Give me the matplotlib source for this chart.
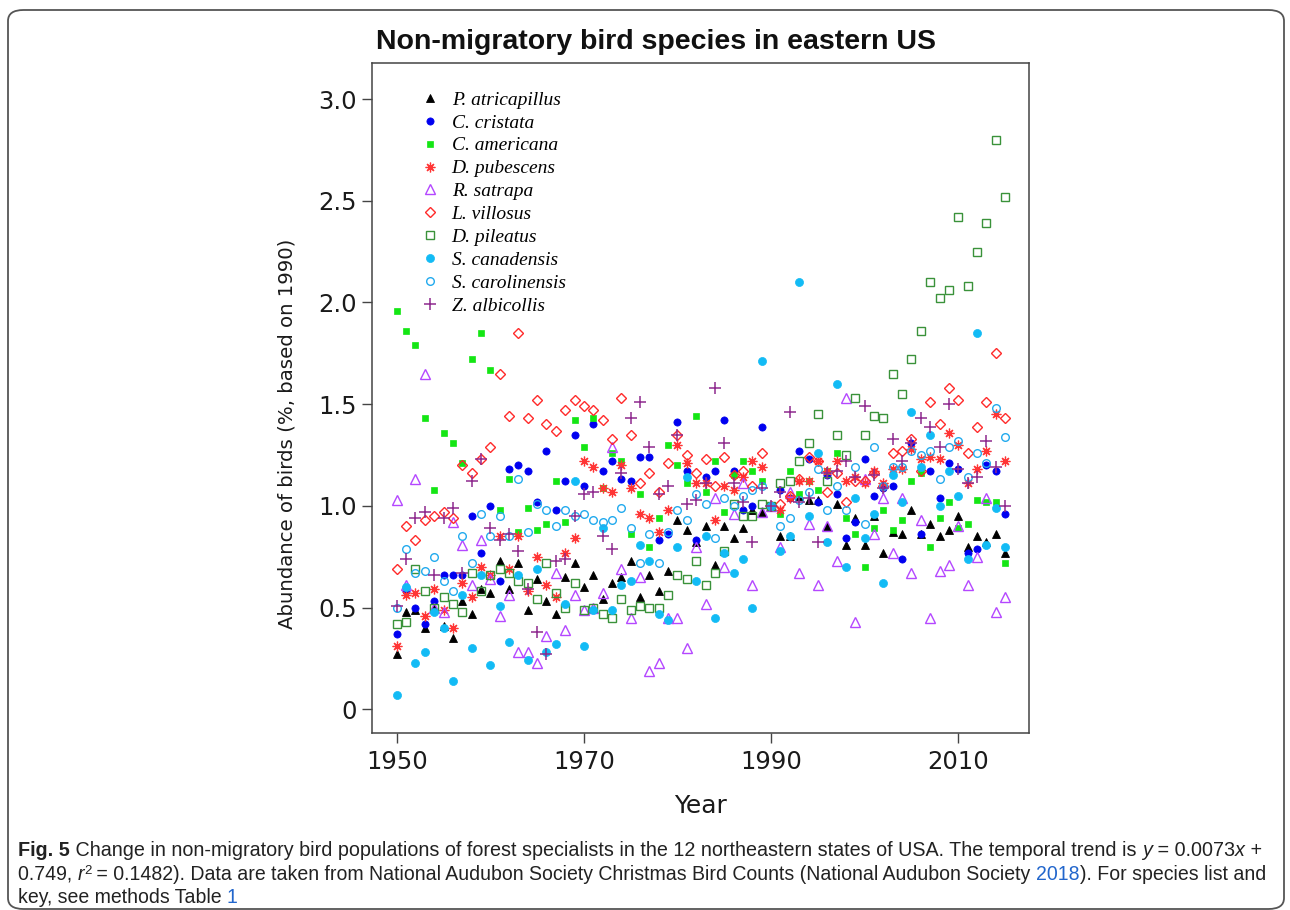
import numpy as np
import matplotlib
matplotlib.use("Agg")
import matplotlib.pyplot as plt
from matplotlib.patches import FancyBboxPatch

# ---------------- data ----------------
years = np.arange(1950, 2016)

P_atricapillus = [0.27, 0.48, 0.49, 0.40, 0.50, 0.41, 0.35, 0.53, 0.47, 0.59,
                  0.57, 0.73, 0.59, 0.72, 0.49, 0.64, 0.53, 0.47, 0.65, 0.72,
                  0.60, 0.66, 0.54, 0.62, 0.65, 0.73, 0.55, 0.66, 0.58, 0.68,
                  0.93, 0.88, 0.82, 0.90, 0.71, 0.90, 0.84, 0.89, 0.98, 0.97,
                  1.00, 0.85, 0.85, 1.05, 1.03, 1.03, 0.90, 1.01, 0.81, 0.94,
                  0.81, 0.95, 0.77, 0.87, 0.86, 0.98, 0.86, 0.91, 0.85, 0.88,
                  0.95, 0.80, 0.85, 0.82, 0.86, 0.77]
C_cristata = [0.37, 0.58, 0.50, 0.42, 0.53, 0.66, 0.66, 0.66, 0.95, 0.77,
              1.00, 0.63, 1.18, 1.20, 1.17, 1.02, 1.27, 0.98, 1.12, 1.35,
              1.10, 1.40, 1.17, 1.22, 1.13, 1.12, 1.24, 1.24, 0.83, 0.86,
              1.41, 1.17, 0.83, 1.14, 1.17, 1.42, 1.17, 0.98, 1.00, 1.39,
              1.00, 1.08, 1.04, 1.27, 1.23, 1.02, 1.15, 1.06, 0.84, 0.92,
              1.23, 1.05, 1.09, 1.10, 0.74, 1.31, 0.86, 1.17, 1.04, 1.21,
              1.18, 0.77, 0.79, 1.20, 1.17, 0.96]
C_americana = [1.96, 1.86, 1.79, 1.43, 1.08, 1.36, 1.31, 1.21, 1.72, 1.85,
               1.67, 0.98, 1.13, 0.87, 0.99, 0.88, 0.91, 1.12, 0.92, 1.42,
               1.29, 1.43, 1.09, 1.26, 1.22, 0.86, 1.06, 0.80, 0.94, 1.30,
               1.20, 1.11, 1.44, 1.07, 1.22, 0.97, 1.15, 1.22, 1.17, 1.12,
               1.00, 0.96, 1.17, 1.06, 1.12, 1.08, 1.17, 1.26, 0.94, 0.86,
               0.70, 0.89, 0.98, 0.88, 0.93, 1.12, 1.16, 0.80, 0.94, 1.02,
               0.89, 0.91, 1.03, 1.02, 1.02, 0.72]
D_pubescens = [0.31, 0.56, 0.57, 0.46, 0.59, 0.49, 0.40, 0.62, 0.55, 0.70,
               0.66, 0.85, 0.69, 0.85, 0.58, 0.75, 0.61, 0.55, 0.77, 0.84,
               1.22, 1.19, 1.09, 1.07, 1.20, 1.09, 0.96, 0.94, 0.87, 0.98,
               1.30, 1.21, 1.11, 1.11, 0.93, 1.10, 1.08, 1.14, 1.22, 1.19,
               1.00, 0.98, 1.04, 1.12, 1.12, 1.22, 1.17, 1.22, 1.12, 1.14,
               1.11, 1.17, 1.11, 1.18, 1.18, 1.28, 1.23, 1.24, 1.23, 1.36,
               1.30, 1.11, 1.18, 1.27, 1.45, 1.22]
R_satrapa = [1.03, 0.61, 1.13, 1.65, 0.50, 0.48, 0.92, 0.81, 0.61, 0.83,
             0.64, 0.46, 0.56, 0.28, 0.28, 0.23, 0.36, 0.67, 0.39, 0.56,
             0.49, 0.50, 0.57, 1.29, 0.69, 0.45, 0.65, 0.19, 0.23, 0.45,
             0.45, 0.30, 0.80, 0.52, 1.04, 0.70, 0.96, 1.11, 0.61, 0.97,
             1.00, 0.80, 1.07, 0.67, 0.91, 0.61, 0.90, 0.73, 1.53, 0.43,
             1.13, 0.86, 1.04, 0.77, 1.04, 0.67, 0.93, 0.45, 0.68, 0.71,
             0.90, 0.61, 0.75, 1.04, 0.48, 0.55]
L_villosus = [0.69, 0.90, 0.83, 0.93, 0.95, 0.97, 0.94, 1.20, 1.16, 1.23,
              1.29, 1.65, 1.44, 1.85, 1.43, 1.52, 1.40, 1.37, 1.47, 1.52,
              1.49, 1.47, 1.42, 1.33, 1.53, 1.35, 1.11, 1.16, 1.07, 1.21,
              1.35, 1.25, 1.16, 1.23, 1.10, 1.24, 1.15, 1.17, 1.10, 1.26,
              1.00, 1.01, 1.05, 1.13, 1.24, 1.22, 1.07, 1.16, 1.02, 1.12,
              1.12, 1.16, 1.10, 1.26, 1.27, 1.33, 1.17, 1.51, 1.40, 1.58,
              1.52, 1.26, 1.39, 1.51, 1.75, 1.43]
D_pileatus = [0.42, 0.43, 0.69, 0.58, 0.50, 0.55, 0.52, 0.48, 0.67, 0.58,
              0.66, 0.69, 0.67, 0.63, 0.62, 0.54, 0.72, 0.57, 0.50, 0.62,
              0.49, 0.50, 0.47, 0.45, 0.54, 0.49, 0.51, 0.50, 0.50, 0.56,
              0.66, 0.64, 0.73, 0.61, 0.67, 0.78, 1.01, 0.95, 0.95, 1.01,
              1.00, 1.11, 1.12, 1.22, 1.31, 1.45, 1.12, 1.35, 1.25, 1.53,
              1.35, 1.44, 1.43, 1.65, 1.55, 1.72, 1.86, 2.10, 2.02, 2.06,
              2.42, 2.08, 2.25, 2.39, 2.80, 2.52]
S_canadensis = [0.07, 0.60, 0.23, 0.28, 0.48, 0.40, 0.14, 0.56, 0.30, 0.66,
                0.22, 0.51, 0.33, 0.66, 0.24, 0.69, 0.28, 0.32, 0.52, 1.12,
                0.31, 0.49, 0.89, 0.49, 0.61, 0.63, 0.81, 0.73, 0.47, 0.44,
                0.80, 1.14, 0.63, 0.85, 0.45, 0.77, 0.67, 0.74, 0.50, 1.71,
                1.00, 0.78, 0.85, 2.10, 0.95, 1.26, 0.82, 1.60, 0.70, 1.04,
                0.84, 0.96, 0.62, 1.15, 1.02, 1.46, 1.19, 1.35, 1.00, 1.17,
                1.05, 0.74, 1.85, 0.81, 0.99, 0.80]
S_carolinensis = [0.50, 0.79, 0.67, 0.68, 0.75, 0.63, 0.58, 0.85, 0.72, 0.96,
                  0.85, 0.95, 0.85, 1.13, 0.87, 1.01, 0.98, 0.90, 0.98, 0.95,
                  0.96, 0.93, 0.92, 0.93, 0.99, 0.89, 0.72, 0.86, 0.72, 0.87,
                  0.98, 0.93, 1.06, 1.01, 0.84, 1.04, 1.00, 1.05, 1.08, 1.10,
                  1.00, 0.90, 0.94, 1.03, 1.07, 1.18, 0.98, 1.10, 0.98, 1.19,
                  0.91, 1.29, 1.10, 1.19, 1.19, 1.27, 1.25, 1.27, 1.13, 1.29,
                  1.32, 1.14, 1.26, 1.21, 1.48, 1.34]
Z_albicollis = [0.51, 0.74, 0.94, 0.97, 0.66, 0.94, 0.99, 0.67, 1.12, 1.23,
                0.89, 0.83, 0.86, 0.78, 0.59, 0.38, 0.27, 0.73, 0.74, 0.95,
                1.06, 1.07, 0.85, 0.79, 1.16, 1.43, 1.51, 1.29, 1.06, 1.10,
                1.35, 1.01, 1.03, 1.11, 1.58, 1.31, 1.11, 1.02, 0.82, 1.09,
                1.00, 1.07, 1.46, 1.02, 1.04, 0.82, 1.16, 1.17, 1.22, 1.14,
                1.49, 1.15, 1.09, 1.33, 1.22, 1.31, 1.43, 1.39, 1.29, 1.50,
                1.18, 1.11, 1.14, 1.32, 1.19, 1.00]

species_labels = ["P. atricapillus", "C. cristata", "C. americana", "D. pubescens",
                  "R. satrapa", "L. villosus", "D. pileatus", "S. canadensis",
                  "S. carolinensis", "Z. albicollis"]
series = [P_atricapillus, C_cristata, C_americana, D_pubescens, R_satrapa,
          L_villosus, D_pileatus, S_canadensis, S_carolinensis, Z_albicollis]

x_ticks = [1950, 1970, 1990, 2010]
y_ticks = [0, 0.5, 1.0, 1.5, 2.0, 2.5, 3.0]
y_tick_labels = ["0", "0.5", "1.0", "1.5", "2.0", "2.5", "3.0"]

title = "Non-migratory bird species in eastern US"

# ---------------- styles ----------------
styles = [
    dict(marker="^", ms=6.3, mfc="black", mec="black", mew=0.6),
    dict(marker="o", ms=5.2, mfc="#0000F0", mec="#0000F0", mew=0.5),
    dict(marker="s", ms=4.6, mfc="#14E614", mec="#14E614", mew=0.5),
    dict(marker=(8, 2, 0), ms=7.0, mfc="#FF3535", mec="#FF3535", mew=0.9),
    dict(marker="^", ms=7.0, mfc="none", mec="#B447FF", mew=1.0),
    dict(marker="D", ms=4.7, mfc="none", mec="#FF2A2A", mew=1.0),
    dict(marker="s", ms=5.3, mfc="none", mec="#3A923A", mew=1.0),
    dict(marker="o", ms=5.8, mfc="#12BBF5", mec="#12BBF5", mew=0.5),
    dict(marker="o", ms=5.5, mfc="none", mec="#22AAEE", mew=1.0),
    dict(marker="+", ms=8.0, mfc="#8E2A8E", mec="#8E2A8E", mew=1.1),
]

W, H = 1290, 910
fig = plt.figure(figsize=(W / 100, H / 100), dpi=100)
fig.patch.set_facecolor("white")

# rounded page frame
frame = FancyBboxPatch((8 / W, 1 - 909 / H), (1284 - 8) / W, (909 - 10) / H,
                       boxstyle="round,pad=0,rounding_size=0.012",
                       transform=fig.transFigure, fill=False,
                       edgecolor="#555555", linewidth=1.3)
fig.patches.append(frame)

ax_l, ax_r, ax_t, ax_b = 372.3, 1029.3, 63.0, 733.3
ax = fig.add_axes([ax_l / W, 1 - ax_b / H, (ax_r - ax_l) / W, (ax_b - ax_t) / H])

handles = []
for vals, lab, st in zip(series, species_labels, styles):
    h, = ax.plot(years, vals, linestyle="none", label=lab, **st)
    handles.append(h)

ax.set_xlim(1947.39, 2017.59)
ax.set_ylim(-0.118, 3.177)
ax.set_xticks(x_ticks)
ax.set_xticklabels([str(t) for t in x_ticks])
ax.set_yticks(y_ticks)
ax.set_yticklabels(y_tick_labels)
ax.tick_params(direction="out", length=7.2, width=1.0, labelsize=17.5,
               pad=4, color="#444444", labelcolor="#1a1a1a")
ax.tick_params(axis="x", pad=5)
for s in ax.spines.values():
    s.set_color("#444444")
    s.set_linewidth(1.1)

ax.set_xlabel("Year", fontsize=18, labelpad=14, color="#1a1a1a")
ax.set_ylabel("Abundance of birds (%, based on 1990)", fontsize=14.2,
              color="#1a1a1a")
ax.yaxis.set_label_coords(-0.116, 0.447)

leg = ax.legend(handles=handles, loc="upper left",
                bbox_to_anchor=(0.0735, 0.958), frameon=False, numpoints=1,
                handlelength=1.0, handletextpad=0.6, labelspacing=0.27,
                borderaxespad=0, borderpad=0,
                prop=dict(family="Liberation Serif", style="italic", size=14))

fig.text(656 / W, 1 - 42 / H, title, ha="center", va="center",
         fontsize=20.5, fontweight="bold", family="Liberation Sans",
         color="#111111")

# ---------------- caption ----------------
cap_family = ["Liberation Sans Narrow", "Liberation Sans", "DejaVu Sans"]
blue = "#2266CC"
line1 = [("Fig. 5", dict(fontweight="bold")),
         (" Change in non-migratory bird populations of forest specialists in the 12 "
          "northeastern states of USA. The temporal trend is ", {}),
         ("y", dict(fontstyle="italic")), (" = 0.0073", {}),
         ("x", dict(fontstyle="italic")), (" +", {})]
line2 = [("0.749, ", {}), ("r", dict(fontstyle="italic")), ("2", dict(sup=True)),
         (" = 0.1482). Data are taken from National Audubon Society Christmas Bird "
          "Counts (National Audubon Society ", {}),
         ("2018", dict(color=blue)), ("). For species list and", {})]
line3 = [("key, see methods Table ", {}), ("1", dict(color=blue))]

renderer = fig.canvas.get_renderer()


def draw_line(segs, x_px, base_px, size, keep=True):
    x = x_px
    made = []
    for txt, kw in segs:
        kw = dict(kw)
        sup = kw.pop("sup", False)
        fs = size * 0.68 if sup else size
        y = base_px - (size * 0.45 if sup else 0)
        t = fig.text(x / W, 1 - y / H, txt, fontsize=fs, va="baseline",
                     ha="left", family=cap_family,
                     color=kw.pop("color", "#222222"), **kw)
        bb = t.get_window_extent(renderer)
        x += bb.width
        made.append(t)
    if not keep:
        for t in made:
            t.remove()
    return x - x_px


base_size = 13.0
w1 = draw_line(line1, 18, 856, base_size, keep=False)
w2 = draw_line(line2, 18, 856, base_size, keep=False)
size1 = base_size * (1256 - 18) / w1
size2 = base_size * (1262 - 18) / w2
cap_size = min(size1, size2)
draw_line(line1, 18, 856, size1)
draw_line(line2, 18, 880, size2)
draw_line(line3, 18, 903, cap_size)

fig.savefig("out.png", dpi=100)
